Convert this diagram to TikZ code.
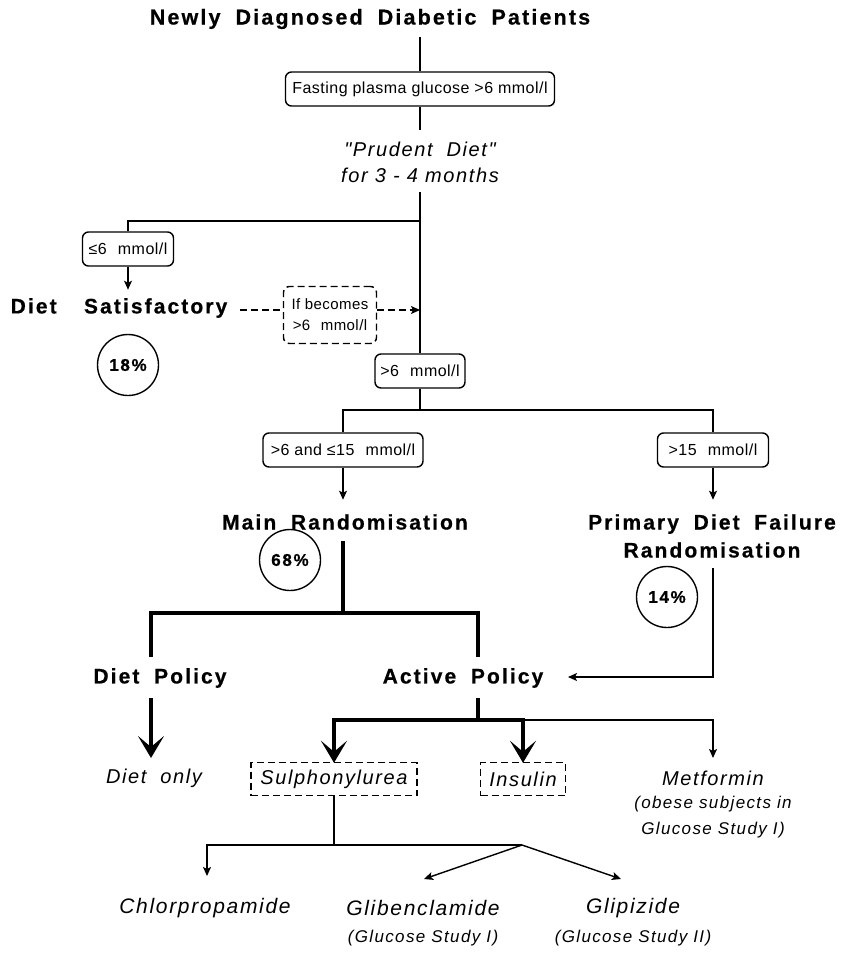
\documentclass[tikz,border=0pt]{standalone}
\usepackage{fontspec}
\setmainfont{Liberation Sans}
\newfontfamily\bfam[LetterSpace=10,FakeBold=0.6]{Liberation Sans}
\newfontfamily\ifam[LetterSpace=8]{Liberation Sans}
\newfontfamily\rfam[LetterSpace=3]{Liberation Sans}
\newcommand\wg{\hspace{0.7em}}
\usetikzlibrary{arrows.meta}
\begin{document}
\begin{tikzpicture}[x=1pt,y=-1pt,
  ln/.style={line width=1.4pt},
  thk/.style={line width=4pt},
  tip/.style={-{Stealth[length=9pt,width=8pt,inset=2pt]}},
  bigtip/.style={-{Stealth[length=22pt,width=26pt,inset=11pt]}},
  dsh/.style={dash pattern=on 7pt off 4pt},
  big/.style={font=\bfam\bfseries\fontsize{21}{28}\selectfont, inner sep=0, align=center},
  it/.style={font=\ifam\itshape\fontsize{20}{26}\selectfont, inner sep=0, align=center},
  sit/.style={font=\ifam\itshape\fontsize{17}{26}\selectfont, inner sep=0, align=center},
  box/.style={draw, ln, rounded corners=6pt, font=\rfam\fontsize{16}{19}\selectfont, minimum height=34, inner sep=0},
  dbox/.style={draw, ln, dsh, font=\ifam\itshape\fontsize{20}{24}\selectfont, minimum height=33, inner sep=0},
  pct/.style={draw, circle, ln, minimum size=61, font=\bfam\bfseries\fontsize{17}{20}\selectfont, inner sep=0}
]
\useasboundingbox (0,0) rectangle (842,953);

% nodes
\node[big, font=\bfam\bfseries\fontsize{21.5}{28}\selectfont] (title) at (370,19) {Newly\wg Diagnosed\wg Diabetic\wg Patients};
\node[box, minimum width=269] (fast) at (420,89) {Fasting plasma glucose >6 mmol/l};
\node[it] (prud) at (420,162) {"Prudent\wg Diet"\\for 3 - 4 months};
\coordinate (j1) at (420,221);
\node[box, minimum width=91] (le6) at (128,249) {≤6\wg mmol/l};
\node[big] (dsat) at (119,308) {Diet\hspace{1.3em}Satisfactory};
\node[box, dsh, minimum width=93, minimum height=57, align=center, font=\rfam\fontsize{15}{21}\selectfont] (ifb) at (330,315) {If becomes\\>6\wg mmol/l};
\node[pct] (c18) at (128,365) {18\%};
\node[box, minimum width=90] (gt6) at (420,371) {>6\wg mmol/l};
\coordinate (j2) at (420,410);
\node[box, minimum width=160] (b615) at (343,450) {>6 and ≤15\wg mmol/l};
\node[box, minimum width=111] (b15) at (713,450) {>15\wg mmol/l};
\node[big] (mainr) at (345,522) {Main\wg Randomisation};
\node[big] (pdf) at (712,536) {Primary\wg Diet\wg Failure\\Randomisation};
\node[pct] (c68) at (290,560) {68\%};
\node[pct] (c14) at (667,597) {14\%};
\node[big] (dpol) at (160,678) {Diet\wg Policy};
\node[big] (apol) at (463,678) {Active\wg Policy};
\node[it] (donly) at (154,778) {Diet\wg only};
\node[dbox, minimum width=166] (sulph) at (334,779) {Sulphonylurea};
\node[dbox, minimum width=85] (ins) at (523,779) {Insulin};
\node[it] (met) at (713,778) {Metformin};
\node[sit] (metsub) at (713,817) {(obese subjects in\\Glucose Study I)};
\node[it, font=\ifam\itshape\fontsize{21}{26}\selectfont] (chl) at (205,908) {Chlorpropamide};
\node[it, font=\ifam\itshape\fontsize{21}{26}\selectfont] (glib) at (423,908) {Glibenclamide};
\node[sit] (glibs) at (423,938) {(Glucose Study I)};
\node[it, font=\ifam\itshape\fontsize{21}{26}\selectfont] (glip) at (633,908) {Glipizide};
\node[sit] (glips) at (633,938) {(Glucose Study II)};

% helper coordinates
\coordinate (t0) at (420,37);
\coordinate (p0) at (420,130);
\coordinate (p1) at (420,192);
\coordinate (s0) at (240,310);
\coordinate (m1) at (343,541);
\coordinate (m2) at (343,613);
\coordinate (dp1) at (151,657);
\coordinate (ap1) at (478,657);
\coordinate (dp2) at (151,698);
\coordinate (dp3) at (151,758);
\coordinate (ap2) at (478,698);
\coordinate (ap3) at (478,720);
\coordinate (mt) at (713,758);
\coordinate (f0) at (713,568);
\coordinate (f1) at (568,677);
\coordinate (s1) at (334,845);
\coordinate (apex) at (522,845);
\coordinate (chlt) at (207,876);
\coordinate (glibt) at (424,879);
\coordinate (glipt) at (621,879);

% connectors
\draw[ln] (t0) -- (fast.north);
\draw[ln] (fast.south) -- (p0);
\draw[ln] (p1) -- (gt6.north);
\draw[ln] (j1) -| (le6.north);
\draw[ln, tip] (le6.south) -- ++(0,23);
\draw[ln, dsh] (s0) -- (ifb.west |- s0);
\draw[ln, dsh, tip] (ifb.east |- s0) -- (s0 -| j1);
\draw[ln] (gt6.south) -- (j2);
\draw[ln] (j2) -| (b615.north);
\draw[ln] (j2) -| (b15.north);
\draw[ln, tip] (b615.south) -- ++(0,32);
\draw[ln, tip] (b15.south) -- ++(0,32);
\draw[thk] (m1) -- (m2);
\draw[thk] (dp1) |- (m2) -| (ap1);
\draw[thk, bigtip] (dp2) -- (dp3);
\draw[ln, tip] (f0) |- (f1);
\draw[thk] (ap2) -- (ap3);
\draw[thk, bigtip] (ap3) -| ([yshift=-1]sulph.north);
\draw[thk, bigtip] (ap3) -| ([yshift=-1]ins.north);
\draw[ln, tip] (ins.north |- ap3) -| (mt);
\draw[ln] (sulph.south) -- (s1);
\draw[ln, tip] (apex) -| (chlt);
\draw[ln, tip] (apex) -- (glibt);
\draw[ln, tip] (apex) -- (glipt);
\end{tikzpicture}
\end{document}
